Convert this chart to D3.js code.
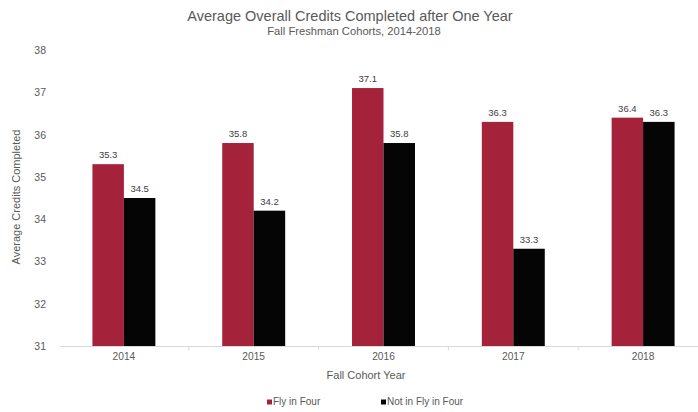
<!DOCTYPE html>
<html>
<head>
<meta charset="utf-8">
<script src="https://cdn.jsdelivr.net/npm/d3@7"></script>
<style>
  html, body { margin: 0; padding: 0; background: #fff; }
  svg { display: block; font-family: "Liberation Sans", Arial, sans-serif; }
</style>
</head>
<body>
<svg id="chart" width="698" height="412"></svg>
<script>
const years = ["2014", "2015", "2016", "2017", "2018"];
const seriesNames = ["Fly in Four", "Not in Fly in Four"];
const flyInFour = [35.3, 35.8, 37.1, 36.3, 36.4];
const notInFlyInFour = [34.5, 34.2, 35.8, 33.3, 36.3];
const yTicks = [31, 32, 33, 34, 35, 36, 37, 38];
const colors = ["#A4233A", "#050505"];

const svg = d3.select("#chart");
const plotLeft = 59, plotRight = 708, plotTop = 50, plotBottom = 346;

const x = d3.scaleBand().domain(years).range([plotLeft, plotRight]);
const bw = x.bandwidth();
const sub = d3.scaleBand().domain(seriesNames)
  .range([bw * 0.2575, bw * 0.7425]);
const y = d3.scaleLinear().domain([31, 38]).range([plotBottom, plotTop]);

// Titles
svg.append("text").attr("x", 350).attr("y", 21).attr("text-anchor", "middle")
  .attr("font-size", 14.5).attr("fill", "#595959")
  .text("Average Overall Credits Completed after One Year");
svg.append("text").attr("x", 354).attr("y", 35).attr("text-anchor", "middle")
  .attr("font-size", 11.2).attr("fill", "#595959")
  .text("Fall Freshman Cohorts, 2014-2018");

// Y axis tick labels (no line)
svg.append("g").selectAll("text").data(yTicks).join("text")
  .attr("x", 46).attr("y", d => y(d) + 4).attr("text-anchor", "end")
  .attr("font-size", 10.5).attr("fill", "#595959").text(d => d);

svg.append("text")
  .attr("transform", `translate(20,${(plotTop + plotBottom) / 2 - 1}) rotate(-90)`)
  .attr("text-anchor", "middle").attr("font-size", 11).attr("fill", "#595959")
  .text("Average Credits Completed");

// Bars
const rows = years.map((yr, i) => ({ yr, vals: [flyInFour[i], notInFlyInFour[i]] }));
const groups = svg.append("g").selectAll("g").data(rows).join("g")
  .attr("transform", d => `translate(${x(d.yr)},0)`);

groups.selectAll("rect").data(d => d.vals.map((v, j) => ({ v, name: seriesNames[j], j })))
  .join("rect")
  .attr("x", d => sub(d.name)).attr("width", sub.bandwidth())
  .attr("y", d => y(d.v)).attr("height", d => y(31) - y(d.v))
  .attr("fill", d => colors[d.j]);

groups.selectAll("text").data(d => d.vals.map((v, j) => ({ v, name: seriesNames[j] })))
  .join("text")
  .attr("x", d => sub(d.name) + sub.bandwidth() / 2)
  .attr("y", d => y(d.v) - 6)
  .attr("text-anchor", "middle").attr("font-size", 9.5).attr("fill", "#404040")
  .text(d => d.v.toFixed(1));

// X axis
const xAxis = svg.append("g").attr("transform", `translate(0,${plotBottom})`)
  .call(d3.axisBottom(x).tickSize(0).tickPadding(7));
xAxis.select(".domain").attr("stroke", "#d9d9d9");
xAxis.selectAll("text").attr("font-size", 10.2).attr("fill", "#595959")
  .attr("font-family", "Liberation Sans, Arial, sans-serif");
// Category boundary ticks
svg.append("g").selectAll("line").data(years.slice(1)).join("line")
  .attr("x1", d => x(d)).attr("x2", d => x(d))
  .attr("y1", plotBottom).attr("y2", plotBottom + 4).attr("stroke", "#d9d9d9");

svg.append("text").attr("x", 366).attr("y", 379).attr("text-anchor", "middle")
  .attr("font-size", 11).attr("fill", "#595959").text("Fall Cohort Year");

// Legend
const legendX = [267, 381];
const legend = svg.append("g").selectAll("g").data(seriesNames).join("g")
  .attr("transform", (d, i) => `translate(${legendX[i]},405)`);
legend.append("rect").attr("x", 0).attr("y", -5.5).attr("width", 5).attr("height", 5)
  .attr("fill", (d, i) => colors[i]);
legend.append("text").attr("x", 6).attr("y", 0)
  .attr("font-size", 10).attr("fill", "#595959").text(d => d);
</script>
</body>
</html>
